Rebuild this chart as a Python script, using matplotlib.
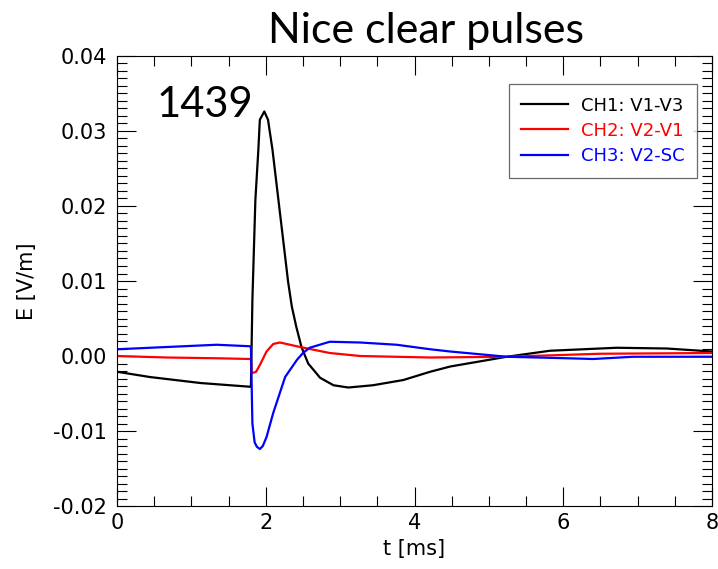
import matplotlib
matplotlib.use('Agg')
import matplotlib.pyplot as plt
from matplotlib.ticker import MultipleLocator

# values
t_ch1 = [0.0, 0.44, 1.12, 1.79, 1.80, 1.82, 1.86, 1.90, 1.92, 1.98, 2.03, 2.09, 2.17,
         2.25, 2.30, 2.35, 2.41, 2.48, 2.57, 2.73, 2.91, 3.11, 3.44, 3.85,
         4.21, 4.48, 5.24, 5.82, 6.72, 7.39, 8.0]
e_ch1 = [-0.0021, -0.0028, -0.0036, -0.0041, -0.0041, 0.0075, 0.0208, 0.0275, 0.0315,
         0.0326, 0.0315, 0.0275, 0.0208, 0.0141, 0.0099, 0.0066, 0.0039,
         0.0012, -0.0010, -0.0029, -0.0039, -0.0042, -0.0039, -0.0032, -0.0021,
         -0.0014, -0.0001, 0.0007, 0.0011, 0.0010, 0.0006]

t_ch2 = [0.0, 0.67, 1.34, 1.79, 1.80, 1.81, 1.87, 1.92, 2.01, 2.10, 2.19, 2.46,
         2.86, 3.27, 4.21, 5.24, 6.49, 8.0]
e_ch2 = [0.0, -0.0002, -0.0003, -0.0004, -0.0004, -0.0023, -0.0021, -0.0012, 0.0006,
         0.0016, 0.0018, 0.0012, 0.0004, 0.0, -0.0002, -0.0001, 0.0003, 0.0004]

t_ch3 = [0.0, 0.67, 1.34, 1.79, 1.80, 1.82, 1.85, 1.88, 1.92, 1.96, 2.01, 2.10, 2.26,
         2.42, 2.50, 2.59, 2.86, 3.27, 3.76, 4.21, 4.48, 5.24, 6.05, 6.40, 6.94, 8.0]
e_ch3 = [0.0009, 0.0012, 0.0015, 0.0013, 0.0013, -0.0090, -0.0115, -0.0121, -0.0124,
         -0.0120, -0.0108, -0.0076, -0.0028, -0.0005, 0.0004, 0.0011, 0.0019, 0.0018,
         0.0015, 0.0009, 0.0006, -0.0001, -0.0003, -0.0004, -0.0001, -0.0001]

labels = ['CH1: V1-V3', 'CH2: V2-V1', 'CH3: V2-SC']
colors = ['black', 'red', 'blue']

fig = plt.figure(figsize=(7.18, 5.69), dpi=100)
ax = fig.add_axes([0.163, 0.1107, 0.8287, 0.7909])

ax.plot(t_ch1, e_ch1, color=colors[0], lw=1.6, label=labels[0])
ax.plot(t_ch2, e_ch2, color=colors[1], lw=1.6, label=labels[1])
ax.plot(t_ch3, e_ch3, color=colors[2], lw=1.6, label=labels[2])

ax.set_xlim(0, 8)
ax.set_ylim(-0.02, 0.04)
ax.xaxis.set_major_locator(MultipleLocator(2))
ax.xaxis.set_minor_locator(MultipleLocator(0.5))
ax.yaxis.set_major_locator(MultipleLocator(0.01))
ax.yaxis.set_minor_locator(MultipleLocator(0.001))
ax.yaxis.set_major_formatter(plt.FuncFormatter(lambda v, p: '%.2f' % v))
ax.tick_params(which='both', direction='in', top=True, right=True, labelsize=15, width=0.8)
ax.tick_params(which='major', length=14)
ax.tick_params(which='minor', length=7.5)
ax.tick_params(axis='x', pad=5)
ax.tick_params(axis='y', pad=7)
for s in ax.spines.values():
    s.set_linewidth(0.8)

ax.set_xlabel('t [ms]', fontsize=15, labelpad=4)
ax.set_ylabel('E [V/m]', fontsize=15, labelpad=12)

leg = ax.legend(loc='upper right', bbox_to_anchor=(0.975, 0.938), borderaxespad=0,
                fontsize=13, labelcolor='linecolor', fancybox=False, edgecolor='#444444',
                handlelength=2.6, handletextpad=0.7, labelspacing=0.4, borderpad=0.7)
leg.get_frame().set_linewidth(0.9)

fig.text(0.594, 0.9244, 'Nice clear pulses', fontsize=31, family='Lato', ha='center', va='baseline')
fig.text(0.218, 0.7944, '1439', fontsize=30, family='Lato', ha='left', va='baseline')

fig.savefig('out.png', dpi=100)
